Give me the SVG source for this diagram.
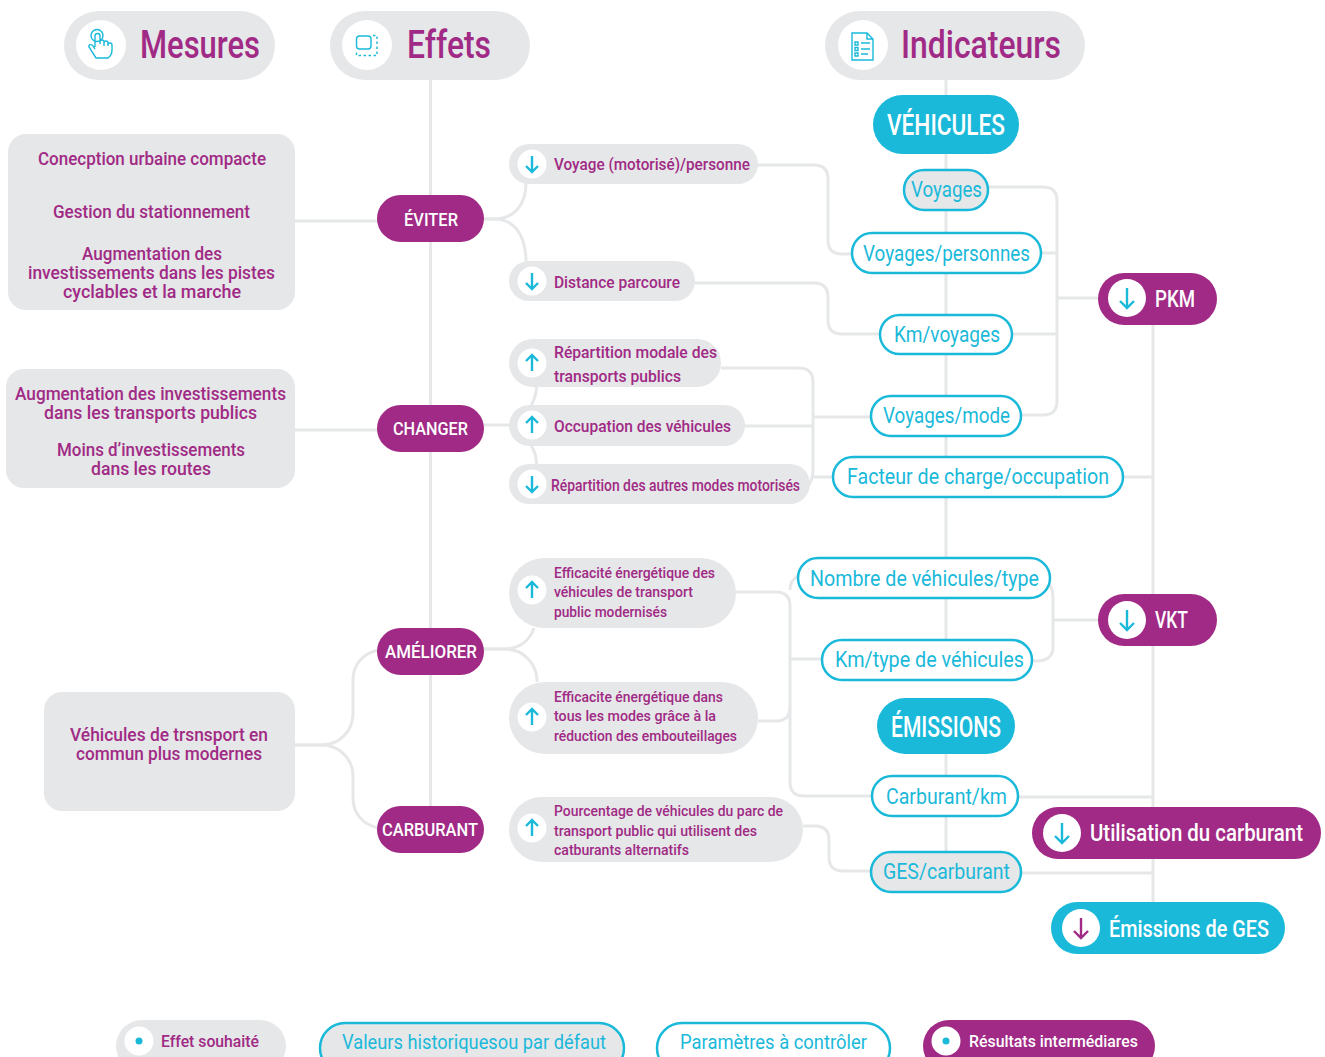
<svg xmlns="http://www.w3.org/2000/svg" width="1325" height="1057" viewBox="0 0 1325 1057">
<style>
text{font-family:Roboto,"Liberation Sans",sans-serif;font-weight:500}
.conn path,.conn line{fill:none;stroke:#e6e7e8;stroke-width:3}
.g{fill:#e6e7e8}.p{fill:#a02a85}.c{fill:#1ab9da}.w{fill:#fff}
.ind{fill:#fff;stroke:#1ab9da;stroke-width:2.5}
.ind.gr{fill:#e6e7e8}
.tp{fill:#a02a85}.tc{fill:#1ab9da;font-weight:400}.tw{fill:#fff}
.s38{font-size:38px}.s19{font-size:19px}.s17{font-size:17px}.s15{font-size:15px}.s21{font-size:22px}.s23{font-size:24px}.s29{font-size:30px}
.ar{fill:none;stroke:#1ab9da;stroke-width:2.4}.arp{fill:none;stroke:#a02a85;stroke-width:2.4}
.ic{fill:none;stroke:#1ab9da;stroke-width:1.4}
</style>
<defs>
<path id="dn" d="M0-8V8M-6 2L0 8L6 2"/>
<path id="up" d="M0 8V-8M-6-2L0-8L6-2"/>
<path id="dn2" d="M0-10V10M-7 3L0 10L7 3"/>
</defs>
<g id="connectors" class="conn">
<path d="M430.500 80V830"/>
<path d="M946 80V680M946 754V860"/>
<path d="M1153 298V930"/>
<path d="M295 221H378M295 430H378"/>
<path d="M295 745H322A31 31 0 0 0 353 714V680C353 665 362 654 378 650"/>
<path d="M295 745H322A31 31 0 0 1 353 776V798C353 813 362 824 378 828"/>
<path d="M484 219H494C514 219 526 205 526 183"/>
<path d="M484 219H494C514 219 526 235 526 262"/>
<path d="M484 425H509M531.500 405C535 398 536.500 393 536.500 387M531.500 446C535 452 536.500 458 536.500 464"/>
<path d="M484 649H503C520 649 530 640 534 628"/>
<path d="M484 649H505A32 32 0 0 1 537 682"/>
<path d="M758 165H814Q828 165 828 179V240Q828 254 842 254H851"/>
<path d="M695 283H814Q828 283 828 297V320Q828 334 842 334H879"/>
<path d="M721 368H799Q813 368 813 382V470Q813 482 806 488"/>
<path d="M745 426H813M813 417H870M813 477H833"/>
<path d="M736 592H776Q790 592 790 606V782Q790 796 804 796H872"/>
<path d="M790 590Q790 580 798 576M790 659H822M758 721H776Q790 721 790 707"/>
<path d="M803 826H815Q829 826 829 840V857Q829 871 843 871H870"/>
<path d="M988 187H1043Q1057 187 1057 201V401Q1057 415 1043 415H1021"/>
<path d="M1041 253H1057M1012 334H1057M1057 298H1098"/>
<path d="M1123 477H1153"/>
<path d="M1048 583Q1053 588 1053 598V647Q1053 661 1036 661H1031M1053 620H1098"/>
<path d="M1018 797H1153M1021 873H1153"/>
</g>
<g id="h-mesures"><rect class="g" x="64" y="11" width="211" height="69" rx="34.500"/><circle class="w" cx="101" cy="45" r="25"/>
<path class="ic" d="M95 47V36a2.500 2.500 0 0 1 5 0V44M100 42a2 2 0 0 1 4 0V46M104 43a2 2 0 0 1 4 0V46M108 45a2 2 0 0 1 4 0V50Q112 55 108 58H96L89 47C88 44 92 44 93 46L95 49"/><circle class="ic" cx="97" cy="35.500" r="6"/>
<text class="tp s38" x="140" y="58" textLength="120" lengthAdjust="spacingAndGlyphs">Mesures</text></g>
<g id="h-effets"><rect class="g" x="330" y="11" width="200" height="69" rx="34.500"/><circle class="w" cx="367" cy="45" r="25"/>
<rect class="ic" x="356.500" y="36" width="14.500" height="13" rx="3"/><path class="ic" stroke-dasharray="2.500 2.500" d="M373 35.500H377V55.500H356.500V52"/>
<text class="tp s38" x="407" y="58" textLength="84" lengthAdjust="spacingAndGlyphs">Effets</text></g>
<g id="h-indicateurs"><rect class="g" x="825" y="11" width="260" height="69" rx="34.500"/><circle class="w" cx="863" cy="45" r="25"/>
<path class="ic" d="M852 33H867L873 39V60H852ZM867 33V39H873"/><path class="ic" d="M855 42h3v3h-3zM855 47.500h3v3h-3zM855 53h3v3h-3zM861 43H870M861 49H870M861 54H868"/>
<text class="tp s38" x="901" y="58" textLength="160" lengthAdjust="spacingAndGlyphs">Indicateurs</text></g>
<g id="m1"><rect class="g" x="8" y="134" width="287" height="176" rx="18"/>
<text class="tp s19" x="38" y="165" textLength="228" lengthAdjust="spacingAndGlyphs">Conecption urbaine compacte</text>
<text class="tp s19" x="53" y="218" textLength="197" lengthAdjust="spacingAndGlyphs">Gestion du stationnement</text>
<text class="tp s19" x="82" y="260" textLength="140" lengthAdjust="spacingAndGlyphs">Augmentation des</text>
<text class="tp s19" x="28" y="279" textLength="247" lengthAdjust="spacingAndGlyphs">investissements dans les pistes</text>
<text class="tp s19" x="63" y="298" textLength="178" lengthAdjust="spacingAndGlyphs">cyclables et la marche</text></g>
<g id="m2"><rect class="g" x="6" y="369" width="289" height="119" rx="18"/>
<text class="tp s19" x="15" y="400" textLength="271" lengthAdjust="spacingAndGlyphs">Augmentation des investissements</text>
<text class="tp s19" x="44" y="419" textLength="213" lengthAdjust="spacingAndGlyphs">dans les transports publics</text>
<text class="tp s19" x="57" y="456" textLength="188" lengthAdjust="spacingAndGlyphs">Moins d’investissements</text>
<text class="tp s19" x="91" y="475" textLength="120" lengthAdjust="spacingAndGlyphs">dans les routes</text></g>
<g id="m3"><rect class="g" x="44" y="692" width="251" height="119" rx="18"/>
<text class="tp s19" x="70" y="741" textLength="198" lengthAdjust="spacingAndGlyphs">Véhicules de trsnsport en</text>
<text class="tp s19" x="76" y="760" textLength="186" lengthAdjust="spacingAndGlyphs">commun plus modernes</text></g>
<g id="a-eviter"><rect class="p" x="377" y="195" width="107" height="47" rx="23.500"/><text class="tw s19" x="404" y="226" textLength="54" lengthAdjust="spacingAndGlyphs">ÉVITER</text></g>
<g id="a-changer"><rect class="p" x="377" y="405" width="107" height="47" rx="23.500"/><text class="tw s19" x="393" y="435" textLength="75" lengthAdjust="spacingAndGlyphs">CHANGER</text></g>
<g id="a-ameliorer"><rect class="p" x="377" y="628" width="107" height="47" rx="23.500"/><text class="tw s19" x="385" y="658" textLength="92" lengthAdjust="spacingAndGlyphs">AMÉLIORER</text></g>
<g id="a-carburant"><rect class="p" x="377" y="806" width="107" height="47" rx="23.500"/><text class="tw s19" x="382" y="836" textLength="96" lengthAdjust="spacingAndGlyphs">CARBURANT</text></g>
<g id="e1"><rect class="g" x="509" y="144" width="249" height="40" rx="20"/><circle class="w" cx="532" cy="164" r="14.500"/><use href="#dn" class="ar" x="532" y="164"/>
<text class="tp s17" x="554" y="169.500" textLength="196" lengthAdjust="spacingAndGlyphs">Voyage (motorisé)/personne</text></g>
<g id="e2"><rect class="g" x="509" y="261" width="186" height="40" rx="20"/><circle class="w" cx="532" cy="281" r="14.500"/><use href="#dn" class="ar" x="532" y="281"/>
<text class="tp s17" x="554" y="287.500" textLength="126" lengthAdjust="spacingAndGlyphs">Distance parcoure</text></g>
<g id="e3"><rect class="g" x="509" y="339" width="212" height="48" rx="24"/><circle class="w" cx="532" cy="363" r="14.500"/><use href="#up" class="ar" x="532" y="363"/>
<text class="tp s17" x="554" y="358" textLength="163" lengthAdjust="spacingAndGlyphs">Répartition modale des</text>
<text class="tp s17" x="554" y="382" textLength="127" lengthAdjust="spacingAndGlyphs">transports publics</text></g>
<g id="e4"><rect class="g" x="509" y="405" width="236" height="41" rx="20.500"/><circle class="w" cx="532" cy="425" r="14.500"/><use href="#up" class="ar" x="532" y="425"/>
<text class="tp s17" x="554" y="431.500" textLength="177" lengthAdjust="spacingAndGlyphs">Occupation des véhicules</text></g>
<g id="e5"><rect class="g" x="509" y="464" width="301" height="40" rx="20"/><circle class="w" cx="532" cy="484" r="14.500"/><use href="#dn" class="ar" x="532" y="484"/>
<text class="tp" style="font-size:16px" x="551" y="491" textLength="249" lengthAdjust="spacingAndGlyphs">Répartition des autres modes motorisés</text></g>
<g id="e6"><rect class="g" x="509" y="558" width="227" height="70" rx="35"/><circle class="w" cx="532" cy="590" r="14.500"/><use href="#up" class="ar" x="532" y="590"/>
<text class="tp s15" x="554" y="578" textLength="161" lengthAdjust="spacingAndGlyphs">Efficacité énergétique des</text>
<text class="tp s15" x="554" y="597" textLength="139" lengthAdjust="spacingAndGlyphs">véhicules de transport</text>
<text class="tp s15" x="554" y="617" textLength="113" lengthAdjust="spacingAndGlyphs">public modernisés</text></g>
<g id="e7"><rect class="g" x="509" y="682" width="249" height="72" rx="36"/><circle class="w" cx="532" cy="717" r="14.500"/><use href="#up" class="ar" x="532" y="717"/>
<text class="tp s15" x="554" y="702" textLength="169" lengthAdjust="spacingAndGlyphs">Efficacite énergétique dans</text>
<text class="tp s15" x="554" y="721" textLength="162" lengthAdjust="spacingAndGlyphs">tous les modes grâce à la</text>
<text class="tp s15" x="554" y="741" textLength="183" lengthAdjust="spacingAndGlyphs">réduction des embouteillages</text></g>
<g id="e8"><rect class="g" x="509" y="797" width="294" height="65" rx="32.500"/><circle class="w" cx="532" cy="828" r="14.500"/><use href="#up" class="ar" x="532" y="828"/>
<text class="tp s15" x="554" y="816" textLength="229" lengthAdjust="spacingAndGlyphs">Pourcentage de véhicules du parc de</text>
<text class="tp s15" x="554" y="836" textLength="203" lengthAdjust="spacingAndGlyphs">transport public qui utilisent des</text>
<text class="tp s15" x="554" y="855" textLength="135" lengthAdjust="spacingAndGlyphs">catburants alternatifs</text></g>
<g id="vehicules"><rect class="c" x="873" y="95" width="146" height="59" rx="29.500"/><text class="tw s29" x="887" y="135" textLength="118" lengthAdjust="spacingAndGlyphs">VÉHICULES</text></g>
<g id="emissions"><rect class="c" x="877" y="698" width="138" height="56" rx="28"/><text class="tw s29" x="891" y="737" textLength="110" lengthAdjust="spacingAndGlyphs">ÉMISSIONS</text></g>
<g id="i1"><rect class="ind gr" x="904" y="170" width="84" height="40" rx="20"/><text class="tc s21" x="911" y="197" textLength="71" lengthAdjust="spacingAndGlyphs">Voyages</text></g>
<g id="i2"><rect class="ind" x="852" y="233" width="189" height="40" rx="20"/><text class="tc s21" x="863" y="261" textLength="167" lengthAdjust="spacingAndGlyphs">Voyages/personnes</text></g>
<g id="i3"><rect class="ind" x="880" y="315" width="132" height="39" rx="19.500"/><text class="tc s21" x="894" y="342" textLength="106" lengthAdjust="spacingAndGlyphs">Km/voyages</text></g>
<g id="i4"><rect class="ind" x="871" y="396" width="150" height="40" rx="20"/><text class="tc s21" x="883" y="423" textLength="127" lengthAdjust="spacingAndGlyphs">Voyages/mode</text></g>
<g id="i5"><rect class="ind" x="833" y="457" width="290" height="40" rx="20"/><text class="tc s21" x="847" y="484" textLength="262" lengthAdjust="spacingAndGlyphs">Facteur de charge/occupation</text></g>
<g id="i6"><rect class="ind" x="798" y="558" width="252" height="40" rx="20"/><text class="tc s21" x="810" y="586" textLength="229" lengthAdjust="spacingAndGlyphs">Nombre de véhicules/type</text></g>
<g id="i7"><rect class="ind" x="822" y="640" width="210" height="40" rx="20"/><text class="tc s21" x="835" y="667" textLength="189" lengthAdjust="spacingAndGlyphs">Km/type de véhicules</text></g>
<g id="i8"><rect class="ind" x="872" y="776" width="146" height="40" rx="20"/><text class="tc s21" x="886" y="803.500" textLength="121" lengthAdjust="spacingAndGlyphs">Carburant/km</text></g>
<g id="i9"><rect class="ind gr" x="871" y="852" width="150" height="40" rx="20"/><text class="tc s21" x="883" y="879" textLength="127" lengthAdjust="spacingAndGlyphs">GES/carburant</text></g>
<g id="r-pkm"><rect class="p" x="1098" y="273" width="119" height="52" rx="26"/><circle class="w" cx="1127" cy="298" r="19"/><use href="#dn2" class="ar" x="1127" y="298"/><text class="tw s23" x="1155" y="307" textLength="40" lengthAdjust="spacingAndGlyphs">PKM</text></g>
<g id="r-vkt"><rect class="p" x="1098" y="594" width="119" height="52" rx="26"/><circle class="w" cx="1127" cy="620" r="19"/><use href="#dn2" class="ar" x="1127" y="620"/><text class="tw s23" x="1155" y="628" textLength="33" lengthAdjust="spacingAndGlyphs">VKT</text></g>
<g id="r-carb"><rect class="p" x="1032" y="807" width="289" height="52" rx="26"/><circle class="w" cx="1062" cy="833" r="19"/><use href="#dn2" class="ar" x="1062" y="833"/><text class="tw s23" x="1090" y="841" textLength="213" lengthAdjust="spacingAndGlyphs">Utilisation du carburant</text></g>
<g id="r-ges"><rect class="c" x="1051" y="902" width="234" height="52" rx="26"/><circle class="w" cx="1081" cy="928" r="19"/><use href="#dn2" class="arp" x="1081" y="928"/><text class="tw s23" x="1109" y="937" textLength="160" lengthAdjust="spacingAndGlyphs">Émissions de GES</text></g>
<g id="l1"><rect class="g" x="116" y="1020" width="170" height="52" rx="26"/><circle class="w" cx="139" cy="1041" r="14.500"/><circle class="c" cx="139" cy="1041" r="3.500"/><text class="tp" style="font-size:16px" x="161" y="1046.500" textLength="98" lengthAdjust="spacingAndGlyphs">Effet souhaité</text></g>
<g id="l2"><rect class="ind gr" x="320" y="1023" width="304" height="50" rx="25"/><text class="tc" style="font-size:20px" x="342" y="1049" textLength="264" lengthAdjust="spacingAndGlyphs">Valeurs historiquesou par défaut</text></g>
<g id="l3"><rect class="ind" x="657" y="1023" width="233" height="50" rx="25"/><text class="tc" style="font-size:20px" x="680" y="1049" textLength="187" lengthAdjust="spacingAndGlyphs">Paramètres à contrôler</text></g>
<g id="l4"><rect class="p" x="923" y="1020" width="232" height="52" rx="26"/><circle class="w" cx="946" cy="1041" r="14.500"/><circle class="c" cx="946" cy="1041" r="3.500"/><text class="tw" style="font-size:16px" x="969" y="1046.500" textLength="169" lengthAdjust="spacingAndGlyphs">Résultats intermédiares</text></g>
</svg>
